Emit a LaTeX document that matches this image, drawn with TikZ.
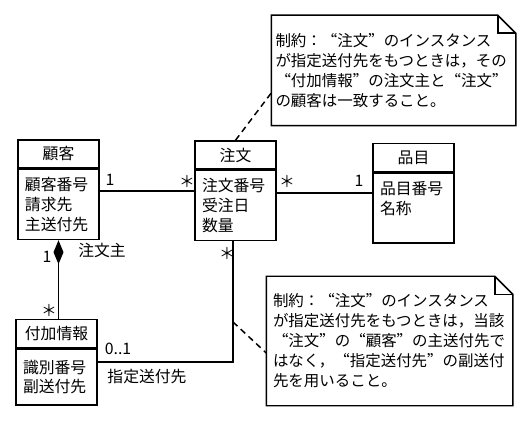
\documentclass[tikz,border=0pt]{standalone}
\usepackage{fontspec}
\setmainfont{Noto Sans CJK JP}
\newfontfamily\fwfont[CharacterWidth=Full]{Noto Sans CJK JP}
\newcommand\jlq{{\fwfont “}}
\newcommand\jrq{{\fwfont ”}}
\usetikzlibrary{arrows.meta}

\begin{document}
\begin{tikzpicture}[line width=0.85pt,
  head/.style={draw, minimum width=1.62cm, minimum height=0.56cm, inner sep=0pt, font=\fontsize{9}{10.8}\selectfont},
  attr/.style={draw, anchor=north, text width=1.34cm, inner xsep=0.14cm, inner ysep=0.16cm, minimum height=1.4cm, align=left, font=\fontsize{9}{11.2}\selectfont},
  note/.style={text width=4.72cm, inner xsep=0.07cm, align=left, font=\fontsize{8.8}{11.4}\selectfont},
  mult/.style={inner sep=0pt, font=\fontsize{9}{10.8}\selectfont}]
  \useasboundingbox (0,0) rectangle (10.6,8.46);

  % classes
  \node[head] (kokyaku) at (1.17,5.38) {顧客};
  \node[attr] (kokyakuBody) at (kokyaku.south) {顧客番号\\請求先\\主送付先};
  \node[head] (chumon) at (4.71,5.36) {注文};
  \node[attr] (chumonBody) at (chumon.south) {注文番号\\受注日\\数量};
  \node[head] (hinmoku) at (8.27,5.31) {品目};
  \node[attr] (hinmokuBody) at (hinmoku.south) {品目番号\\名称\\\mbox{}};
  \node[head] (fuka) at (1.13,1.79) {付加情報};
  \node[attr, minimum height=1.12cm] (fukaBody) at (fuka.south) {識別番号\\副送付先};

  % notes
  \node[note, minimum height=2.18cm] (note1) at (7.87,7.05) {制約：\jlq 注文\jrq のインスタンス\\が指定送付先をもつときは，その\\\jlq 付加情報\jrq の注文主と\jlq 注文\jrq\\の顧客は一致すること。};
  \node[note, minimum height=2.56cm, inner xsep=0.12cm, text width=4.66cm] (note2) at (7.79,1.64) {制約：\jlq 注文\jrq のインスタンス\\が指定送付先をもつときは，当該\\\jlq 注文\jrq の\jlq 顧客\jrq の主送付先で\\はなく，\jlq 指定送付先\jrq の副送付\\先を用いること。};
  \foreach \n in {note1,note2}
  {
  \draw (\n.north west) -- ([xshift=-0.36cm]\n.north east) -- ([yshift=-0.36cm]\n.north east) -- (\n.south east) -- (\n.south west) -- cycle;
  \draw ([xshift=-0.36cm]\n.north east) |- ([yshift=-0.36cm]\n.north east);
  }

  % associations
  \coordinate (a1) at ([yshift=0.27cm]kokyakuBody.east);
  \draw (a1) -- (a1 -| chumonBody.west);
  \coordinate (a2) at ([yshift=0.25cm]chumonBody.east);
  \draw (a2) -- (a2 -| hinmokuBody.west);
  \draw[{Diamond[length=0.48cm,width=0.2cm]}-] (kokyakuBody.south) -- (kokyakuBody.south |- fuka.north);
  \coordinate (bend) at (4.66,1.22);
  \draw (fukaBody.east |- bend) -- (bend) -- (bend |- chumonBody.south);

  % constraints
  \coordinate (noteFoot) at (4.66,2.02);
  \draw[dash pattern=on 3.5pt off 2.5pt] (chumon.north) -- ([yshift=-0.45cm]note1.west);
  \draw[dash pattern=on 3.5pt off 2.5pt] (noteFoot) -- ([yshift=-0.24cm]note2.west);

  \node[mult] (m1) at (2.20,4.86) {1};
  \node[mult] (m2) at (3.74,4.84) {＊};
  \node[mult] (m3) at (5.74,4.84) {＊};
  \node[mult] (m4) at (7.18,4.84) {1};
  \node[mult] (m5) at (0.94,3.32) {1};
  \node[mult] (r1) at (2.04,3.46) {注文主};
  \node[mult] (m6) at (0.98,2.26) {＊};
  \node[mult] (m7) at (4.54,3.40) {＊};
  \node[mult] (m8) at (2.36,1.48) {0..1};
  \node[mult] (r2) at (2.94,0.92) {指定送付先};

\end{tikzpicture}
\end{document}
